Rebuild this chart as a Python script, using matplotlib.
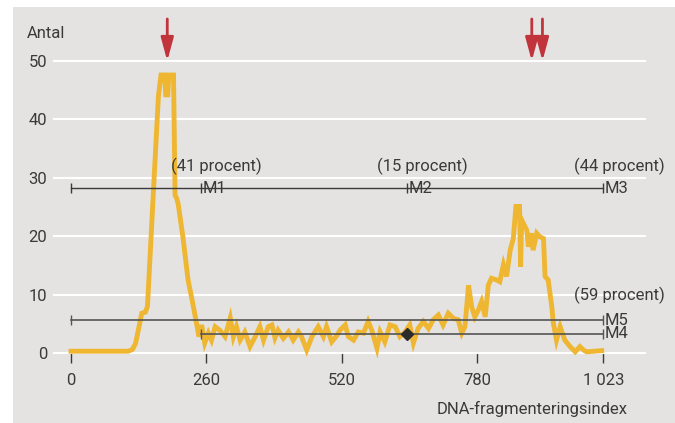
import matplotlib.pyplot as plt
from matplotlib.patches import Rectangle

# histogram (DNA fragmentation index vs count)
dfi = [0, 110, 118, 124, 130, 136, 143, 147, 158, 168, 173, 180, 182, 186, 188, 197,
       200, 203, 206, 215, 225, 234, 246, 251, 257, 264, 270, 277, 286, 296, 306, 312,
       318, 325, 334, 344, 354, 363, 370, 379, 386, 392, 398, 408, 418, 427, 437, 443,
       453, 463, 475, 485, 491, 501, 511, 517, 527, 533, 543, 552, 562, 571, 578, 588,
       594, 603, 613, 623, 632, 642, 651, 658, 667, 677, 687, 696, 706, 715, 725, 735,
       744, 751, 757, 764, 770, 776, 783, 789, 796, 802, 808, 818, 824, 831, 837, 844,
       850, 855, 862, 864, 866, 876, 879, 885, 888, 895, 901, 908, 911, 917, 924, 927,
       933, 940, 949, 959, 969, 978, 985, 991, 1020]
antal = [0.3, 0.3, 0.6, 1.6, 4.2, 6.8, 7.0, 8.0, 27, 44, 47.6, 47.6, 44.2, 44.2, 47.6, 47.6,
         27, 26.5, 25.5, 19.9, 12.5, 8.5, 2.8, 4.8, 1.7, 3.4, 2.2, 4.5, 3.9, 2.8, 6.0, 2.8,
         4.5, 2.2, 3.6, 1.1, 2.8, 4.5, 2.2, 4.5, 4.8, 2.6, 3.9, 2.5, 3.6, 2.2, 3.6, 2.8,
         0.5, 2.8, 4.5, 2.8, 4.5, 1.9, 3.0, 3.9, 4.8, 2.8, 2.2, 3.6, 3.4, 5.4, 3.9, 0.8,
         3.6, 1.9, 4.8, 4.5, 2.8, 3.6, 4.8, 1.7, 4.2, 5.4, 4.2, 5.7, 6.5, 4.8, 6.8, 5.9,
         5.7, 3.4, 4.5, 11.6, 7.9, 6.2, 7.4, 8.8, 6.2, 11.6, 12.8, 12.5, 12.2, 15.1, 13.1, 17.6,
         19.6, 25.1, 25.1, 14.8, 22.8, 21.0, 18.2, 20.5, 17.6, 20.5, 19.9, 19.6, 13.1, 12.5, 7.9, 5.1,
         2.2, 4.5, 2.2, 1.1, 0.2, 1.1, 0.5, 0.2, 0.4]

# gate markers
m_top_y = 28.2
m_top_x = [0, 249, 645, 1023]
m_top_names = ['M1', 'M2', 'M3']
m_top_pct = ['(41 procent)', '(15 procent)', '(44 procent)']
m5 = (0, 1023, 5.6)
m4 = (249, 1023, 3.3)
m45_pct = '(59 procent)'
median_x = 645

arrows_x = [185, 885.5, 906]

xticks = [0, 260, 520, 780, 1023]
xticklabels = ['0', '260', '520', '780', '1 023']
yticks = [0, 10, 20, 30, 40, 50]

BG = '#e4e3e1'
YEL = '#efb631'
RED = '#c2343c'
TXT = '#3a3a3a'
LINE = '#3a3a3a'

plt.rcParams['font.family'] = ['Roboto', 'DejaVu Sans']
plt.rcParams['font.size'] = 12

W, H = 675, 423
fig = plt.figure(figsize=(W / 100, H / 100), dpi=100, facecolor='white')
fig.patches.append(Rectangle((13 / W, 0), 1 - 13 / W, 1 - 7 / H, transform=fig.transFigure,
                             facecolor=BG, edgecolor='none', zorder=-10))

ax = fig.add_axes([53 / W, 1 - 370.5 / H, (646 - 53) / W, (370.5 - 14.3) / H])
ax.set_facecolor('none')
ax.set_xlim(-34.6, 1105)
ax.set_ylim(-3, 58)

for s in ['top', 'right', 'left']:
    ax.spines[s].set_visible(False)
ax.spines['bottom'].set_position(('data', 0))
ax.spines['bottom'].set_color('none')

ax.set_yticks(yticks)
ax.tick_params(axis='y', length=0, pad=4, labelcolor=TXT, labelsize=12)
ax.set_xticks(xticks)
ax.set_xticklabels(xticklabels)
ax.tick_params(axis='x', direction='out', length=7.2, width=1, color=LINE, pad=7,
               labelcolor=TXT, labelsize=12)
ax.yaxis.grid(True, color='white', linewidth=1.5)
ax.set_axisbelow(True)

ax.plot(dfi, antal, color=YEL, linewidth=3.5, solid_joinstyle='miter', zorder=2)

# marker lines
ax.plot([m_top_x[0], m_top_x[-1]], [m_top_y, m_top_y], color=LINE, lw=1, zorder=3)
ax.plot(m_top_x, [m_top_y] * len(m_top_x), ls='none', marker='|', ms=7, mew=1, color=LINE, zorder=3)
for x, name, pct in zip(m_top_x[1:], m_top_names, m_top_pct):
    ax.text(x + 3, m_top_y, name, ha='left', va='center', color=TXT, fontsize=12, zorder=4)
    ax.text(x + 31, m_top_y + 3.7, pct, ha='center', va='center', color=TXT, fontsize=12, zorder=4)

for x0, x1, y, name in [(*m5, 'M5'), (*m4, 'M4')]:
    ax.plot([x0, x1], [y, y], color='#555555', lw=1.2, marker='|', ms=7, mew=1, zorder=3)
    ax.text(x1 + 3, y, name, ha='left', va='center', color=TXT, fontsize=12, zorder=4)
ax.text(m5[1] + 31, 9.9, m45_pct, ha='center', va='center', color=TXT, fontsize=12, zorder=4)

ax.plot([median_x], [m4[2]], marker='D', ms=6.5, color='#2b2b2b', ls='none', zorder=5)

for x in arrows_x:
    ax.annotate('', xy=(x, 50), xytext=(x, 57.2), annotation_clip=False,
                arrowprops=dict(arrowstyle='-|>,head_length=1.4,head_width=0.38',
                                mutation_scale=10, color=RED, lw=2,
                                shrinkA=0, shrinkB=0, clip_on=False))

fig.text(27 / W, 1 - 33 / H, 'Antal', ha='left', va='center', color=TXT, fontsize=12)
fig.text(628 / W, 1 - 408.7 / H, 'DNA-fragmenteringsindex', ha='right', va='center',
         color=TXT, fontsize=12)

fig.savefig('out.png', dpi=100, facecolor='white')
